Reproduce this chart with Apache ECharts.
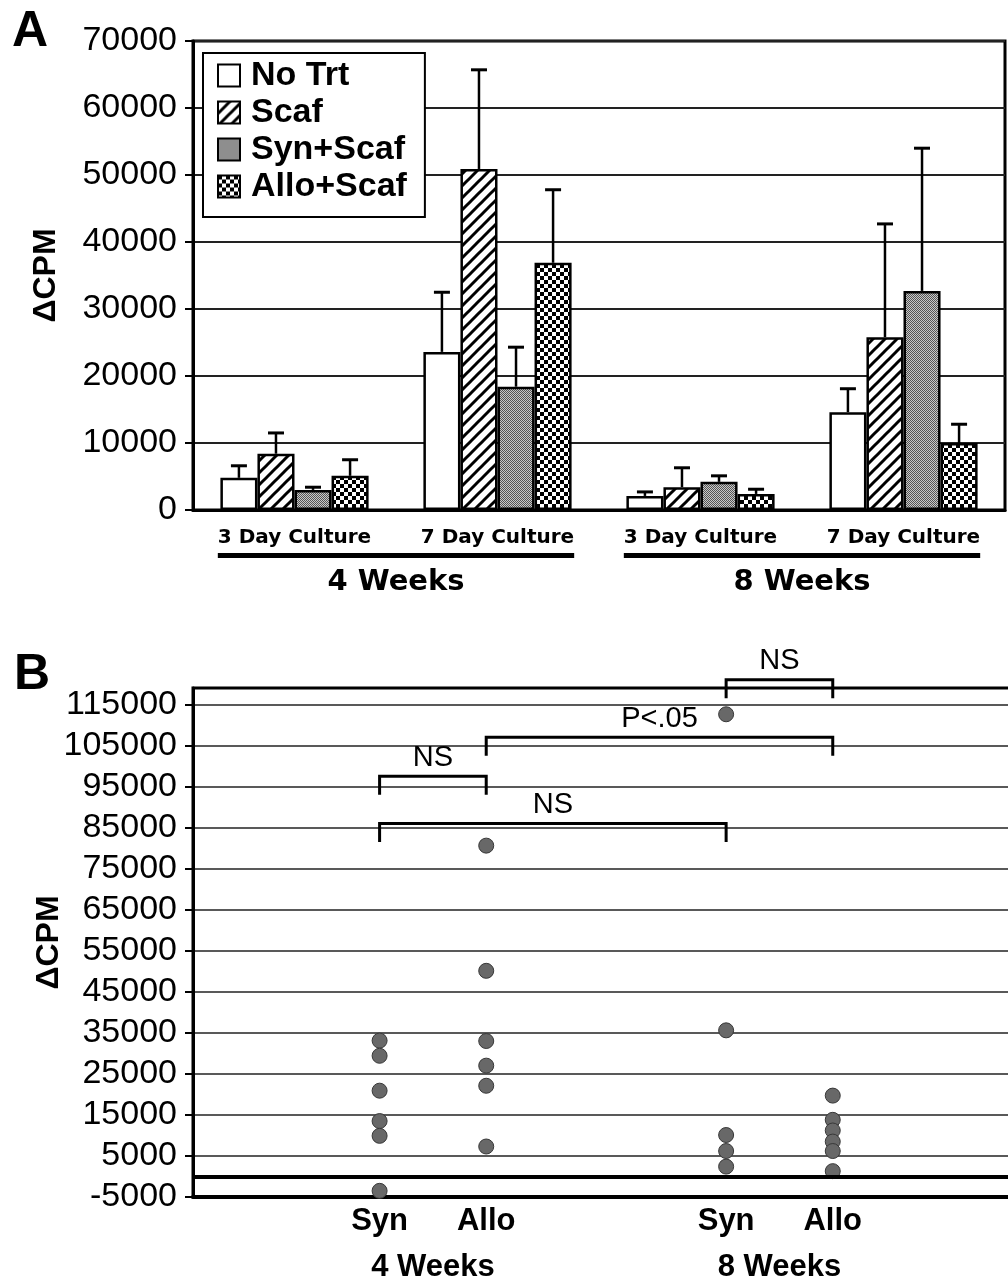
<!DOCTYPE html>
<html><head><meta charset="utf-8">
<script src="https://cdn.jsdelivr.net/npm/echarts@6/dist/echarts.min.js"></script>
<style>html,body{margin:0;padding:0;background:#fff;overflow:hidden}#c{width:1008px;height:1284px}</style>
</head><body><div id="c"></div>
<script>
// ---------- Panel A data ----------
const categoriesA = ['3 Day Culture', '7 Day Culture', '3 Day Culture', '7 Day Culture'];
const weekGroupsA = ['4 Weeks', '8 Weeks'];
const seriesNamesA = ['No Trt', 'Scaf', 'Syn+Scaf', 'Allo+Scaf'];
const noTrt     = [4800, 23600, 2100, 14600];
const noTrtErr  = [1800, 8900, 600, 3500];
const scaf      = [8400, 50900, 3400, 25800];
const scafErr   = [3100, 14800, 2900, 16900];
const synScaf   = [3000, 18400, 4200, 32700];
const synScafErr= [400, 5900, 900, 21300];
const alloScaf  = [5100, 36900, 2400, 10000];
const alloScafErr=[2400, 10900, 700, 2800];

// ---------- Panel B data ----------
const groupLabelsB = ['Syn', 'Allo', 'Syn', 'Allo'];
const weekLabelsB = ['4 Weeks', '8 Weeks'];
const groupX = [3.5, 5.5, 10, 12];          // group positions on the dot-plot x scale
const syn4  = [33100, 29400, 20900, 13500, 9900, -3500];
const allo4 = [80600, 50100, 33000, 27000, 22100, 7300];
const syn8  = [112600, 35600, 10100, 6200, 2400];
const allo8 = [19700, 13800, 11200, 8500, 6200, 1300];
const yTicksB = [-5000, 5000, 15000, 25000, 35000, 45000, 55000, 65000, 75000, 85000, 95000, 105000, 115000];
const bracketFrom  = [0, 0, 1, 2];
const bracketTo    = [1, 2, 3, 3];
const bracketTop   = [97500, 86000, 107000, 121000];
const bracketLeg   = [93000, 81500, 102500, 116500];
const bracketLabel = ['NS', 'NS', 'P<.05', 'NS'];

// ---------- patterns ----------
function mk(w, h, draw) { const c = document.createElement('canvas'); c.width = w; c.height = h; const g = c.getContext('2d'); draw(g); return c; }
const patWhite = '#ffffff';
const patHatch = mk(12, 12, g => {
  g.fillStyle = '#fff'; g.fillRect(0, 0, 12, 12);
  g.strokeStyle = '#000'; g.lineWidth = 3;
  [[-6, 6, 6, -6], [0, 12, 12, 0], [6, 18, 18, 6]].forEach(l => { g.beginPath(); g.moveTo(l[0], l[1]); g.lineTo(l[2], l[3]); g.stroke(); });
});
const patStip = mk(2, 2, g => {
  g.fillStyle = '#c8c8c8'; g.fillRect(0, 0, 2, 2);
  g.fillStyle = '#555'; g.fillRect(0, 0, 1, 1); g.fillRect(1, 1, 1, 1);
});
const patCheck = mk(8, 8, g => {
  g.fillStyle = '#fff'; g.fillRect(0, 0, 8, 8);
  g.fillStyle = '#000'; g.fillRect(0, 0, 4, 4); g.fillRect(4, 4, 4, 4);
});
const fills = [patWhite, { image: patHatch, repeat: 'repeat' }, { image: patStip, repeat: 'repeat' }, { image: patCheck, repeat: 'repeat' }];

const ARIAL = 'Liberation Sans, Arial, sans-serif';
const DEJ = 'DejaVu Sans, sans-serif';
const GAP = 0.27;
const valuesA = [noTrt, scaf, synScaf, alloScaf];
const errsA = [noTrtErr, scafErr, synScafErr, alloScafErr];
const plain = v => String(v);

const chart = echarts.init(document.getElementById('c'), null, { renderer: 'canvas' });

const barSeries = seriesNamesA.map((n, i) => ({
  name: n, type: 'bar', xAxisIndex: 0, yAxisIndex: 0,
  data: valuesA[i], barGap: '0%', barCategoryGap: (GAP * 100) + '%',
  itemStyle: { color: fills[i], borderColor: '#000', borderWidth: 2.5 },
  emphasis: { disabled: true }, z: 2
}));

const errData = [];
valuesA.forEach((arr, k) => arr.forEach((v, c) => errData.push([c, k, v, v + errsA[k][c]])));

const pointsB = [];
[syn4, allo4, syn8, allo8].forEach((arr, g) => arr.forEach(v => pointsB.push([groupX[g], v])));

const bracketData = bracketFrom.map((f, i) => [groupX[f], groupX[bracketTo[i]], bracketTop[i], bracketLeg[i]]);

const option = {
  animation: false,
  backgroundColor: '#fff',
  grid: [
    { left: 193, top: 41, width: 812, height: 469, show: true, borderColor: '#000', borderWidth: 3, backgroundColor: 'transparent', outerBoundsMode: 'none' },
    { left: 193, top: 688, width: 853, height: 509, show: true, borderColor: '#000', borderWidth: 3, backgroundColor: 'transparent', outerBoundsMode: 'none', containLabel: false }
  ],
  legend: {
    data: seriesNamesA, orient: 'vertical', left: 203, top: 53,
    icon: 'rect', itemWidth: 22, itemHeight: 22, itemGap: 0,
    padding: [4, 18, 12, 14],
    backgroundColor: '#fff', borderColor: '#000', borderWidth: 2,
    textStyle: { fontFamily: ARIAL, fontWeight: 'bold', fontSize: 34, color: '#000', lineHeight: 37, padding: [0, 0, 0, 6] },
    selectedMode: false
  },
  xAxis: [
    { type: 'category', gridIndex: 0, data: categoriesA, position: 'bottom',
      axisLine: { lineStyle: { color: '#000', width: 3 } }, axisTick: { show: false },
      axisLabel: { fontFamily: DEJ, fontWeight: 'bold', fontSize: 20, color: '#000', margin: 18, interval: 0 } },
    { type: 'category', gridIndex: 0, data: weekGroupsA, position: 'bottom', offset: 50,
      axisLine: { show: false }, axisTick: { show: false },
      axisLabel: { fontFamily: DEJ, fontWeight: 'bold', fontSize: 29, color: '#000', margin: 8, interval: 0 } },
    { type: 'value', gridIndex: 1, min: 0, max: 16, position: 'bottom',
      axisLine: { onZero: false, lineStyle: { color: '#000', width: 4 } }, axisTick: { show: false },
      splitLine: { show: false },
      axisLabel: { customValues: groupX, margin: 9, fontFamily: ARIAL, fontWeight: 'bold', fontSize: 31, color: '#000',
        formatter: v => groupLabelsB[groupX.indexOf(v)] || '' } },
    { type: 'value', gridIndex: 1, min: 0, max: 16, position: 'bottom', offset: 47,
      axisLine: { show: false, onZero: false }, axisTick: { show: false }, splitLine: { show: false },
      axisLabel: { customValues: [(groupX[0] + groupX[1]) / 2, (groupX[2] + groupX[3]) / 2], margin: 8,
        fontFamily: ARIAL, fontWeight: 'bold', fontSize: 31, color: '#000',
        formatter: v => v < (groupX[1] + groupX[2]) / 2 ? weekLabelsB[0] : weekLabelsB[1] } }
  ],
  yAxis: [
    { type: 'value', gridIndex: 0, min: 0, max: 70000, interval: 10000,
      name: 'ΔCPM', nameLocation: 'middle', nameGap: 131, nameRotate: 90, nameMoveOverlap: false,
      nameTextStyle: { fontFamily: ARIAL, fontWeight: 'bold', fontSize: 32, color: '#000' },
      axisLine: { show: true, lineStyle: { color: '#000', width: 3 } },
      axisTick: { show: true, length: 8, lineStyle: { color: '#000', width: 2 } },
      axisLabel: { fontFamily: ARIAL, fontSize: 34, color: '#000', margin: 16, formatter: plain },
      splitLine: { show: true, lineStyle: { color: '#222', width: 2 } } },
    { type: 'value', gridIndex: 1, min: -5000, max: 119000,
      name: 'ΔCPM', nameLocation: 'middle', nameGap: 128, nameRotate: 90, nameMoveOverlap: false,
      nameTextStyle: { fontFamily: ARIAL, fontWeight: 'bold', fontSize: 32, color: '#000' },
      axisLine: { show: true, onZero: false, lineStyle: { color: '#000', width: 3 } },
      axisTick: { show: true, length: 8, customValues: yTicksB, lineStyle: { color: '#000', width: 2 } },
      axisLabel: { customValues: yTicksB, fontFamily: ARIAL, fontSize: 34, color: '#000', margin: 16, formatter: plain },
      splitLine: { show: true, lineStyle: { color: '#222', width: 1.6 } } }
  ],
  series: [
    ...barSeries,
    { type: 'custom', name: 'err', xAxisIndex: 0, yAxisIndex: 0, z: 5, silent: true,
      data: errData, encode: { x: 0, y: [2, 3] },
      renderItem: (params, api) => {
        const cat = api.value(0), k = api.value(1), mean = api.value(2), up = api.value(3);
        const band = api.size([1, 0])[0];
        const groupW = band * (1 - GAP), bw = groupW / 4;
        const c = api.coord([cat, mean]), t = api.coord([cat, up]);
        const x = c[0] - groupW / 2 + bw * (k + 0.5);
        return { type: 'group', children: [
          { type: 'line', shape: { x1: x, y1: c[1], x2: x, y2: t[1] }, style: { stroke: '#000', lineWidth: 2.5 } },
          { type: 'line', shape: { x1: x - 8, y1: t[1], x2: x + 8, y2: t[1] }, style: { stroke: '#000', lineWidth: 3 } }
        ] };
      } },
    { type: 'scatter', name: 'pts', xAxisIndex: 2, yAxisIndex: 1, data: pointsB, symbolSize: 15, z: 4,
      itemStyle: { color: '#686868', borderColor: '#383838', borderWidth: 1, opacity: 1 },
      emphasis: { disabled: true },
      markLine: { silent: true, symbol: 'none', label: { show: false },
        lineStyle: { color: '#000', width: 4, type: 'solid' }, data: [{ yAxis: 0 }] } },
    { type: 'custom', name: 'brackets', xAxisIndex: 2, yAxisIndex: 1, z: 6, clip: false, silent: true,
      data: bracketData,
      renderItem: (params, api) => {
        const a = api.coord([api.value(0), api.value(2)]);
        const b = api.coord([api.value(1), api.value(2)]);
        const legY = api.coord([api.value(0), api.value(3)])[1];
        return { type: 'group', children: [
          { type: 'polyline', shape: { points: [[a[0], legY], [a[0], a[1]], [b[0], b[1]], [b[0], legY]] },
            style: { stroke: '#000', lineWidth: 3, fill: null } },
          { type: 'text', style: { text: bracketLabel[params.dataIndex], x: (a[0] + b[0]) / 2, y: a[1] - 4,
            align: 'center', verticalAlign: 'bottom', font: '29px ' + ARIAL, fill: '#000' } }
        ] };
      } }
  ]
};
chart.setOption(option);

// group underlines in panel A and panel letters
function measure(text, font) { const g = document.createElement('canvas').getContext('2d'); g.font = font; return g.measureText(text).width; }
const lblFont = 'bold 20px ' + DEJ;
const axisY = chart.convertToPixel({ yAxisIndex: 0 }, 0);
const lines = weekGroupsA.map((w, gi) => {
  const c0 = chart.convertToPixel({ xAxisIndex: 0 }, gi * 2);
  const c1 = chart.convertToPixel({ xAxisIndex: 0 }, gi * 2 + 1);
  const x0 = c0 - measure(categoriesA[gi * 2], lblFont) / 2;
  const x1 = c1 + measure(categoriesA[gi * 2 + 1], lblFont) / 2;
  return { type: 'rect', shape: { x: x0, y: axisY + 43, width: x1 - x0, height: 5 }, style: { fill: '#000' } };
});
chart.setOption({ graphic: [
  ...lines,
  { type: 'text', left: 12, top: 7, style: { text: 'A', font: 'bold 50px ' + ARIAL, fill: '#000' } },
  { type: 'text', left: 14, top: 650, style: { text: 'B', font: 'bold 50px ' + ARIAL, fill: '#000' } }
] });
</script></body></html>
